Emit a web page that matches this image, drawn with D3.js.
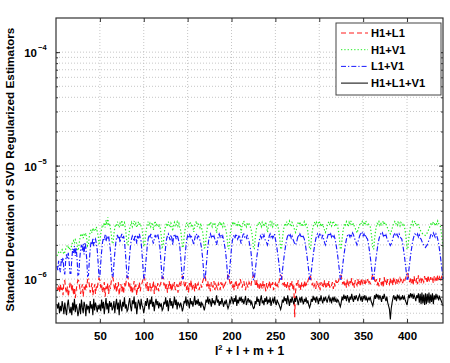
<!DOCTYPE html>
<html><head><meta charset="utf-8">
<script src="https://cdn.jsdelivr.net/npm/d3@7/dist/d3.min.js"></script>
<style>
body{margin:0;background:#fff}
text{font-family:"Liberation Sans",Arial,Helvetica,sans-serif;font-weight:bold;fill:#000}
</style>
</head><body>
<svg id="chart" width="450" height="363"></svg>
<script>
// ---- data (values in units of 1e-8), one row per band l = 0..20 ----
const seriesNames = ["H1+L1", "H1+V1", "L1+V1", "H1+L1+V1"];
const xTickValues = [50, 100, 150, 200, 250, 300, 350, 400];
const yMajorTicks = [1e-6, 1e-5, 1e-4];
const yTickExponents = ["\u22126", "\u22125", "\u22124"];

const h1l1 = [
 [85],
 [80,88,76],
 [90,78,84,72,95],
 [97,82,75,86,70,80,92],
 [94,78,88,72,84,68,80,90,98],
 [96,85,74,82,90,70,86,78,92,84,99],
 [100,88,76,84,92,72,80,90,74,86,82,95,102],
 [98,84,90,76,82,94,70,86,80,92,74,88,82,96,104],
 [102,88,80,92,76,86,94,72,84,90,78,88,74,92,84,96,106],
 [104,86,92,78,88,74,84,96,80,90,72,86,82,94,78,88,92,98,106],
 [102,90,82,94,76,86,92,78,88,84,96,74,90,86,80,92,78,86,90,96,104],
 [104,88,94,80,90,76,86,96,82,92,78,88,84,94,80,86,90,76,88,92,86,98,106],
 [105,90,84,94,80,88,76,92,84,98,80,86,90,78,94,82,88,92,80,86,90,84,94,100,106],
 [106,92,86,96,82,90,78,94,88,84,96,80,90,86,82,92,88,80,94,86,90,82,88,92,96,100,108],
 [106,94,88,96,84,92,80,90,98,86,82,94,88,100,92,84,90,96,86,80,92,88,84,94,90,86,96,102,108],
 [106,92,86,98,84,90,80,94,88,82,96,86,90,78,92,84,88,96,82,90,86,94,80,88,92,84,90,86,94,100,108],
 [106,94,88,96,84,90,82,94,88,80,92,86,96,82,88,46,78,92,86,98,84,90,80,94,88,86,96,84,92,88,96,102,108],
 [106,96,88,94,86,90,82,96,88,84,92,80,94,86,90,84,98,88,82,92,86,96,84,90,88,94,82,92,86,98,90,94,96,104,108],
 [108,96,90,98,88,94,84,100,92,86,96,90,102,88,94,84,98,92,88,100,90,96,86,102,94,90,98,88,96,92,100,94,98,90,96,104,110],
 [108,98,92,100,88,96,86,102,94,90,98,84,104,92,96,88,100,94,90,102,92,98,88,104,96,92,100,90,98,94,102,96,100,92,98,94,100,106,112],
 [110,100,94,104,92,100,88,106,96,92,102,90,108,96,100,92,104,98,94,106,96,102,92,108,98,94,104,96,100,92,106,98,102,94,108,100,104,96,102,108,114]
];

const h1v1 = [
 [160],
 [165,172,168],
 [170,176,182,174,166],
 [172,184,192,198,190,194,178],
 [182,202,212,218,206,222,214,200,178],
 [192,222,242,236,252,230,246,240,254,226,196],
 [202,236,262,272,256,282,264,276,270,288,260,242,206],
 [210,250,280,300,290,315,285,330,300,350,295,310,280,250,210],
 [205,250,285,305,290,320,300,285,310,295,330,290,305,315,280,245,200],
 [200,245,280,300,315,290,305,325,295,310,285,300,320,295,310,290,280,240,195],
 [195,240,275,300,320,295,310,290,305,315,270,300,325,290,310,300,285,305,275,240,190],
 [195,235,275,295,310,290,320,300,285,310,295,265,300,315,290,305,320,295,310,285,270,235,190],
 [190,235,270,295,315,300,285,310,320,295,305,290,260,295,310,325,290,305,300,285,310,280,265,230,188],
 [190,230,270,300,310,295,320,305,290,310,300,315,285,255,290,310,300,320,295,305,290,310,300,280,265,230,185],
 [185,230,265,295,310,300,320,305,295,310,300,320,290,305,255,295,310,325,300,305,290,315,300,310,295,280,260,228,185],
 [185,228,265,295,310,300,320,305,290,315,300,310,295,320,290,258,295,310,320,300,315,290,305,310,300,295,305,292,262,226,184],
 [184,226,262,292,310,300,320,295,310,325,300,290,315,305,285,270,258,275,300,315,305,320,295,310,290,305,320,300,310,292,262,226,184],
 [184,226,262,292,305,320,300,315,295,310,325,300,310,290,305,285,270,258,272,295,310,320,300,315,295,310,325,305,290,310,300,292,262,226,184],
 [184,226,262,292,310,300,320,305,290,315,300,325,305,295,310,290,280,268,255,270,285,300,315,305,320,295,310,300,325,310,295,305,300,292,262,226,184],
 [184,226,262,292,310,305,320,300,315,295,310,325,300,315,305,290,280,268,258,250,262,278,295,310,320,305,315,300,325,310,295,315,305,300,310,292,262,226,184],
 [184,226,262,292,305,320,300,315,325,305,295,310,300,285,270,262,255,250,248,245,242,248,255,265,278,290,305,315,300,320,310,295,315,305,325,310,300,292,262,226,184]
];

const l1v1 = [
 [130],
 [120,145,125],
 [115,150,140,155,118],
 [110,145,165,150,170,140,112],
 [112,150,185,170,195,160,190,150,108],
 [110,150,180,200,175,205,165,210,190,150,106],
 [108,145,185,215,200,230,195,215,225,205,180,140,105],
 [106,140,175,210,230,220,245,215,235,225,240,205,180,138,104],
 [105,135,170,205,230,245,225,240,210,235,250,225,240,215,175,135,103],
 [104,130,165,200,225,240,230,215,245,235,205,240,225,250,230,215,170,130,102],
 [103,130,160,195,225,245,230,250,235,220,205,225,245,230,240,250,225,205,165,128,102],
 [102,128,160,195,225,240,250,235,220,245,230,200,235,250,240,225,245,230,215,195,160,126,101],
 [101,126,158,192,222,240,230,250,235,245,225,215,200,225,245,250,230,240,235,220,205,185,155,124,100],
 [100,124,155,190,220,238,250,235,245,230,240,225,215,200,220,240,250,235,245,230,240,220,200,180,152,122,100],
 [100,122,152,188,218,235,245,230,250,240,225,235,245,220,205,225,245,250,235,240,230,245,225,215,195,178,150,120,99],
 [100,118,138,160,182,205,225,240,230,250,235,245,225,215,210,200,215,240,250,235,245,230,240,250,225,205,182,160,138,118,100],
 [100,118,138,160,182,205,225,240,250,235,245,230,240,225,215,205,200,210,225,245,235,250,240,230,245,235,225,205,182,160,138,118,100],
 [100,118,138,160,182,205,225,240,250,235,245,255,240,230,245,225,210,200,212,230,245,255,240,250,235,245,230,240,225,205,182,160,138,118,100],
 [100,118,138,160,182,205,225,240,250,245,235,250,240,255,245,230,220,210,200,212,225,240,250,245,255,240,250,235,245,230,225,205,182,160,138,118,100],
 [100,118,138,160,182,205,225,240,250,245,255,240,250,235,245,230,220,210,205,198,205,215,230,245,250,240,255,245,235,250,240,230,225,205,182,160,138,118,100],
 [100,118,138,160,182,205,225,240,250,245,240,250,235,245,230,225,215,205,200,195,190,195,200,210,220,230,245,250,240,255,245,235,250,240,225,205,182,160,138,118,100]
];

const h1l1v1 = [
 [60],
 [55,62,50],
 [58,52,64,57,49],
 [62,54,48,59,66,55,50],
 [57,48,62,53,67,51,60,55,47],
 [52,61,49,66,56,50,63,58,47,60,55],
 [58,50,64,55,60,48,67,53,62,57,51,59,54],
 [60,52,66,55,63,49,58,68,54,61,50,64,57,62,53],
 [56,64,50,60,67,54,62,48,66,58,52,63,57,69,55,60,52],
 [54,62,68,57,52,65,60,70,55,63,49,58,66,61,54,67,59,56,50],
 [56,64,58,68,62,54,66,60,70,57,63,52,61,67,59,64,55,62,58,60,53],
 [55,63,60,69,57,65,52,62,68,58,64,55,61,70,59,66,54,63,60,57,62,58,52],
 [56,64,61,70,58,66,62,55,68,60,64,57,63,71,59,65,60,67,58,63,56,62,60,57,53],
 [58,66,62,70,60,67,63,57,68,61,65,59,64,72,62,66,58,64,60,68,62,57,63,61,66,59,55],
 [58,65,62,70,66,60,68,63,72,58,66,61,69,64,70,62,67,60,65,71,59,64,68,62,66,60,63,58,55],
 [56,64,60,70,63,67,58,66,72,61,65,59,68,63,70,60,66,62,69,58,64,67,61,70,63,59,66,62,60,57,54],
 [58,66,62,70,64,68,60,72,65,58,67,62,70,64,60,68,63,71,66,59,65,69,62,70,64,60,67,63,69,61,65,59,56],
 [60,67,63,71,65,69,62,70,66,60,68,64,72,65,61,69,64,70,66,62,68,71,64,67,61,69,65,70,63,67,62,66,64,60,57],
 [62,70,65,73,67,71,64,72,68,62,70,66,74,67,63,71,66,72,68,64,70,73,66,69,63,71,67,72,65,69,64,68,66,70,64,61,58],
 [64,72,67,74,69,73,66,72,68,63,71,67,74,68,64,70,62,58,54,44,55,62,68,72,66,70,64,73,68,71,65,69,67,72,66,70,65,62,59],
 [66,73,68,75,70,74,67,73,69,64,72,68,75,62,74,60,76,61,73,59,75,60,74,62,76,61,73,63,75,60,72,66,74,68,71,65,70,67,64,61,58]
];

const seriesValues = [h1l1, h1v1, l1v1, h1l1v1].map(rows => rows.flat());
const seriesColors = ["#ff1a1a", "#22ee22", "#1a1aff", "#000000"];
const seriesDash = ["5,3", "1.3,2", "5,2,1.3,2", null];
const seriesWidth = [1.15, 1.2, 1.15, 1.1];
const unit = 1e-8;

// ---- layout ----
const svg = d3.select("#chart");
const L = 56, R = 443, T = 18, B = 323;
const x = d3.scaleLinear().domain([0, 441]).range([L, R]);
const y = d3.scaleLog().domain([4.1e-7, 2e-4]).range([B, T]);

// grid
const minor = [];
for (let d = -7; d <= -4; d++) for (let k = 1; k <= 9; k++) {
  const v = k * Math.pow(10, d);
  if (v > 4.1e-7 && v < 2e-4) minor.push(v);
}
const grid = svg.append("g");
grid.selectAll("line.h").data(minor).join("line")
  .attr("x1", L).attr("x2", R).attr("y1", d => y(d)).attr("y2", d => y(d))
  .attr("stroke", "#b8b8b8").attr("stroke-width", 0.8).attr("stroke-dasharray", "1,2");
grid.selectAll("line.v").data(xTickValues).join("line")
  .attr("x1", d => x(d)).attr("x2", d => x(d)).attr("y1", T).attr("y2", B)
  .attr("stroke", "#b8b8b8").attr("stroke-width", 0.8).attr("stroke-dasharray", "1,2");

// lines
const lineGen = d3.line().x((d, i) => x(i + 1)).y(d => y(d * unit));
const plot = svg.append("g");
seriesValues.forEach((vals, s) => {
  plot.append("path").datum(vals).attr("d", lineGen)
    .attr("fill", "none").attr("stroke", seriesColors[s]).attr("stroke-width", seriesWidth[s])
    .attr("stroke-dasharray", seriesDash[s]);
});

// axes (MATLAB-style inward ticks)
const axCol = "#333";
const xb = svg.append("g").attr("transform", `translate(0,${B})`)
  .call(d3.axisBottom(x).tickValues(xTickValues).tickSize(-4).tickPadding(9).tickFormat(d3.format("d")));
const xt = svg.append("g").attr("transform", `translate(0,${T})`)
  .call(d3.axisTop(x).tickValues(xTickValues).tickSize(-4).tickFormat(""));
const yl = svg.append("g").attr("transform", `translate(${L},0)`)
  .call(d3.axisLeft(y).tickValues(minor).tickSize(-2).tickFormat(""));
const yl2 = svg.append("g").attr("transform", `translate(${L},0)`)
  .call(d3.axisLeft(y).tickValues(yMajorTicks).tickSize(-4).tickFormat(""));
const yr = svg.append("g").attr("transform", `translate(${R},0)`)
  .call(d3.axisRight(y).tickValues(minor).tickSize(-2).tickFormat(""));
const yr2 = svg.append("g").attr("transform", `translate(${R},0)`)
  .call(d3.axisRight(y).tickValues(yMajorTicks).tickSize(-4).tickFormat(""));
[xb, xt, yl, yl2, yr, yr2].forEach(g => {
  g.selectAll(".domain").remove();
  g.selectAll("line").attr("stroke", axCol);
});
xb.selectAll("text").attr("font-size", 11.5).attr("font-weight", "bold")
  .attr("font-family", '"Liberation Sans",Arial,sans-serif').attr("fill", "#000");

svg.append("rect").attr("x", L).attr("y", T).attr("width", R - L).attr("height", B - T)
  .attr("fill", "none").attr("stroke", axCol).attr("stroke-width", 1.2);

// y tick labels 10^-n
const yLab = svg.append("g");
yMajorTicks.forEach((v, i) => {
  yLab.append("text").attr("x", 37).attr("y", y(v) + 5)
    .attr("text-anchor", "end").attr("font-size", 11.5).text("10");
  yLab.append("text").attr("x", 38).attr("y", y(v) - 2)
    .attr("font-size", 7.5).text(yTickExponents[i]);
});

// axis titles
svg.append("text").attr("x", (L + R) / 2).attr("y", 355).attr("text-anchor", "middle")
  .attr("font-size", 12)
  .html('l<tspan dy="-5" font-size="7.5">2</tspan><tspan dy="5"> + l + m + 1</tspan>');
svg.append("text").attr("transform", `translate(14,${(T + B) / 2 - 1}) rotate(-90)`)
  .attr("text-anchor", "middle").attr("font-size", 11.8)
  .text("Standard Deviation of SVD Regularized Estimators");

// legend
const lg = svg.append("g");
lg.append("rect").attr("x", 336).attr("y", 23).attr("width", 105).attr("height", 72)
  .attr("fill", "#fff").attr("stroke", "#444").attr("stroke-width", 1);
seriesNames.forEach((name, i) => {
  const yy = 33 + i * 16.7;
  lg.append("line").attr("x1", 341).attr("x2", 368).attr("y1", yy).attr("y2", yy)
    .attr("stroke", seriesColors[i]).attr("stroke-width", 1)
    .attr("stroke-dasharray", seriesDash[i]);
  lg.append("text").attr("x", 371).attr("y", yy + 4).attr("font-size", 11.2).text(name);
});
</script>
</body></html>
